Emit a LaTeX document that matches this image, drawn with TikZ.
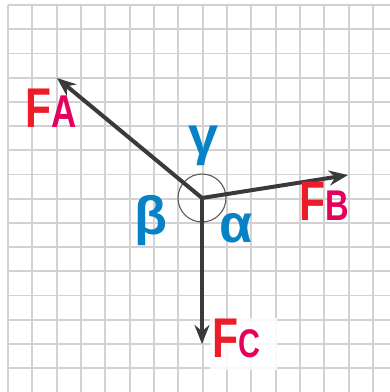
\documentclass[tikz,border=0pt]{standalone}
\usepackage{fontspec}
\setmainfont{Liberation Sans}
\usetikzlibrary{arrows.meta}
\definecolor{gridc}{RGB}{210,210,210}
\definecolor{arrowc}{RGB}{58,58,58}
\definecolor{fred}{RGB}{236,28,40}
\definecolor{fpink}{RGB}{228,0,92}
\definecolor{gblue}{RGB}{8,130,198}
\tikzset{
  gridline/.style={draw=gridc, line width=1.8pt},
  force/.style={draw=arrowc, line width=4pt, -{Stealth[length=19pt,width=15pt]}, shorten <=-1pt},
  flabel/.style={inner sep=0pt, anchor=base west},
  glabel/.style={inner sep=0pt, anchor=base, text=gblue, font=\fontsize{54}{54}\selectfont\bfseries},
}
\newcommand{\Fmain}[2]{\scalebox{0.76}[1]{\textcolor{fred}{\fontsize{56}{56}\selectfont\bfseries F}\textcolor{fpink}{\fontsize{#2}{#2}\selectfont\bfseries #1}}}
\begin{document}
\begin{tikzpicture}[x=1pt,y=-1pt]
\path[use as bounding box, fill=white] (0,0) rectangle (390,392);
% grid
\foreach \k in {0,...,15} {
  \draw[gridline] ({8+24.33*\k},5) -- ({8+24.33*\k},392);
  \draw[gridline] (8,{5+24.2*\k}) -- (390,{5+24.2*\k});
}
% white patch behind F_C
\fill[white, opacity=0.85] (210,318) rectangle (277,370);
% centre and tips
\coordinate (O) at (202,198);
\coordinate (tA) at (57,78);
\coordinate (tB) at (348,175);
\coordinate (tC) at (202,344);
\node[draw={rgb,255:red,90;green,90;blue,90}, line width=1.1pt, circle, minimum size=48pt, inner sep=0pt] (ring) at (O) {};
\draw[force] (O) -- (tA);
\draw[force] (O) -- (tB);
\draw[force] (O) -- (tC);
% labels
\node[flabel] (lA) at (25,127) {\Fmain{A}{46}};
\node[flabel] (lB) at (299,220) {\Fmain{B}{43}};
\node[flabel] (lC) at (212,357) {\Fmain{C}{40}};
\node[glabel] (gam) at (204,154) {γ};
\node[glabel] (bet) at (151,234) {β};
\node[glabel] (alp) at (236,242) {α};
\end{tikzpicture}
\end{document}
